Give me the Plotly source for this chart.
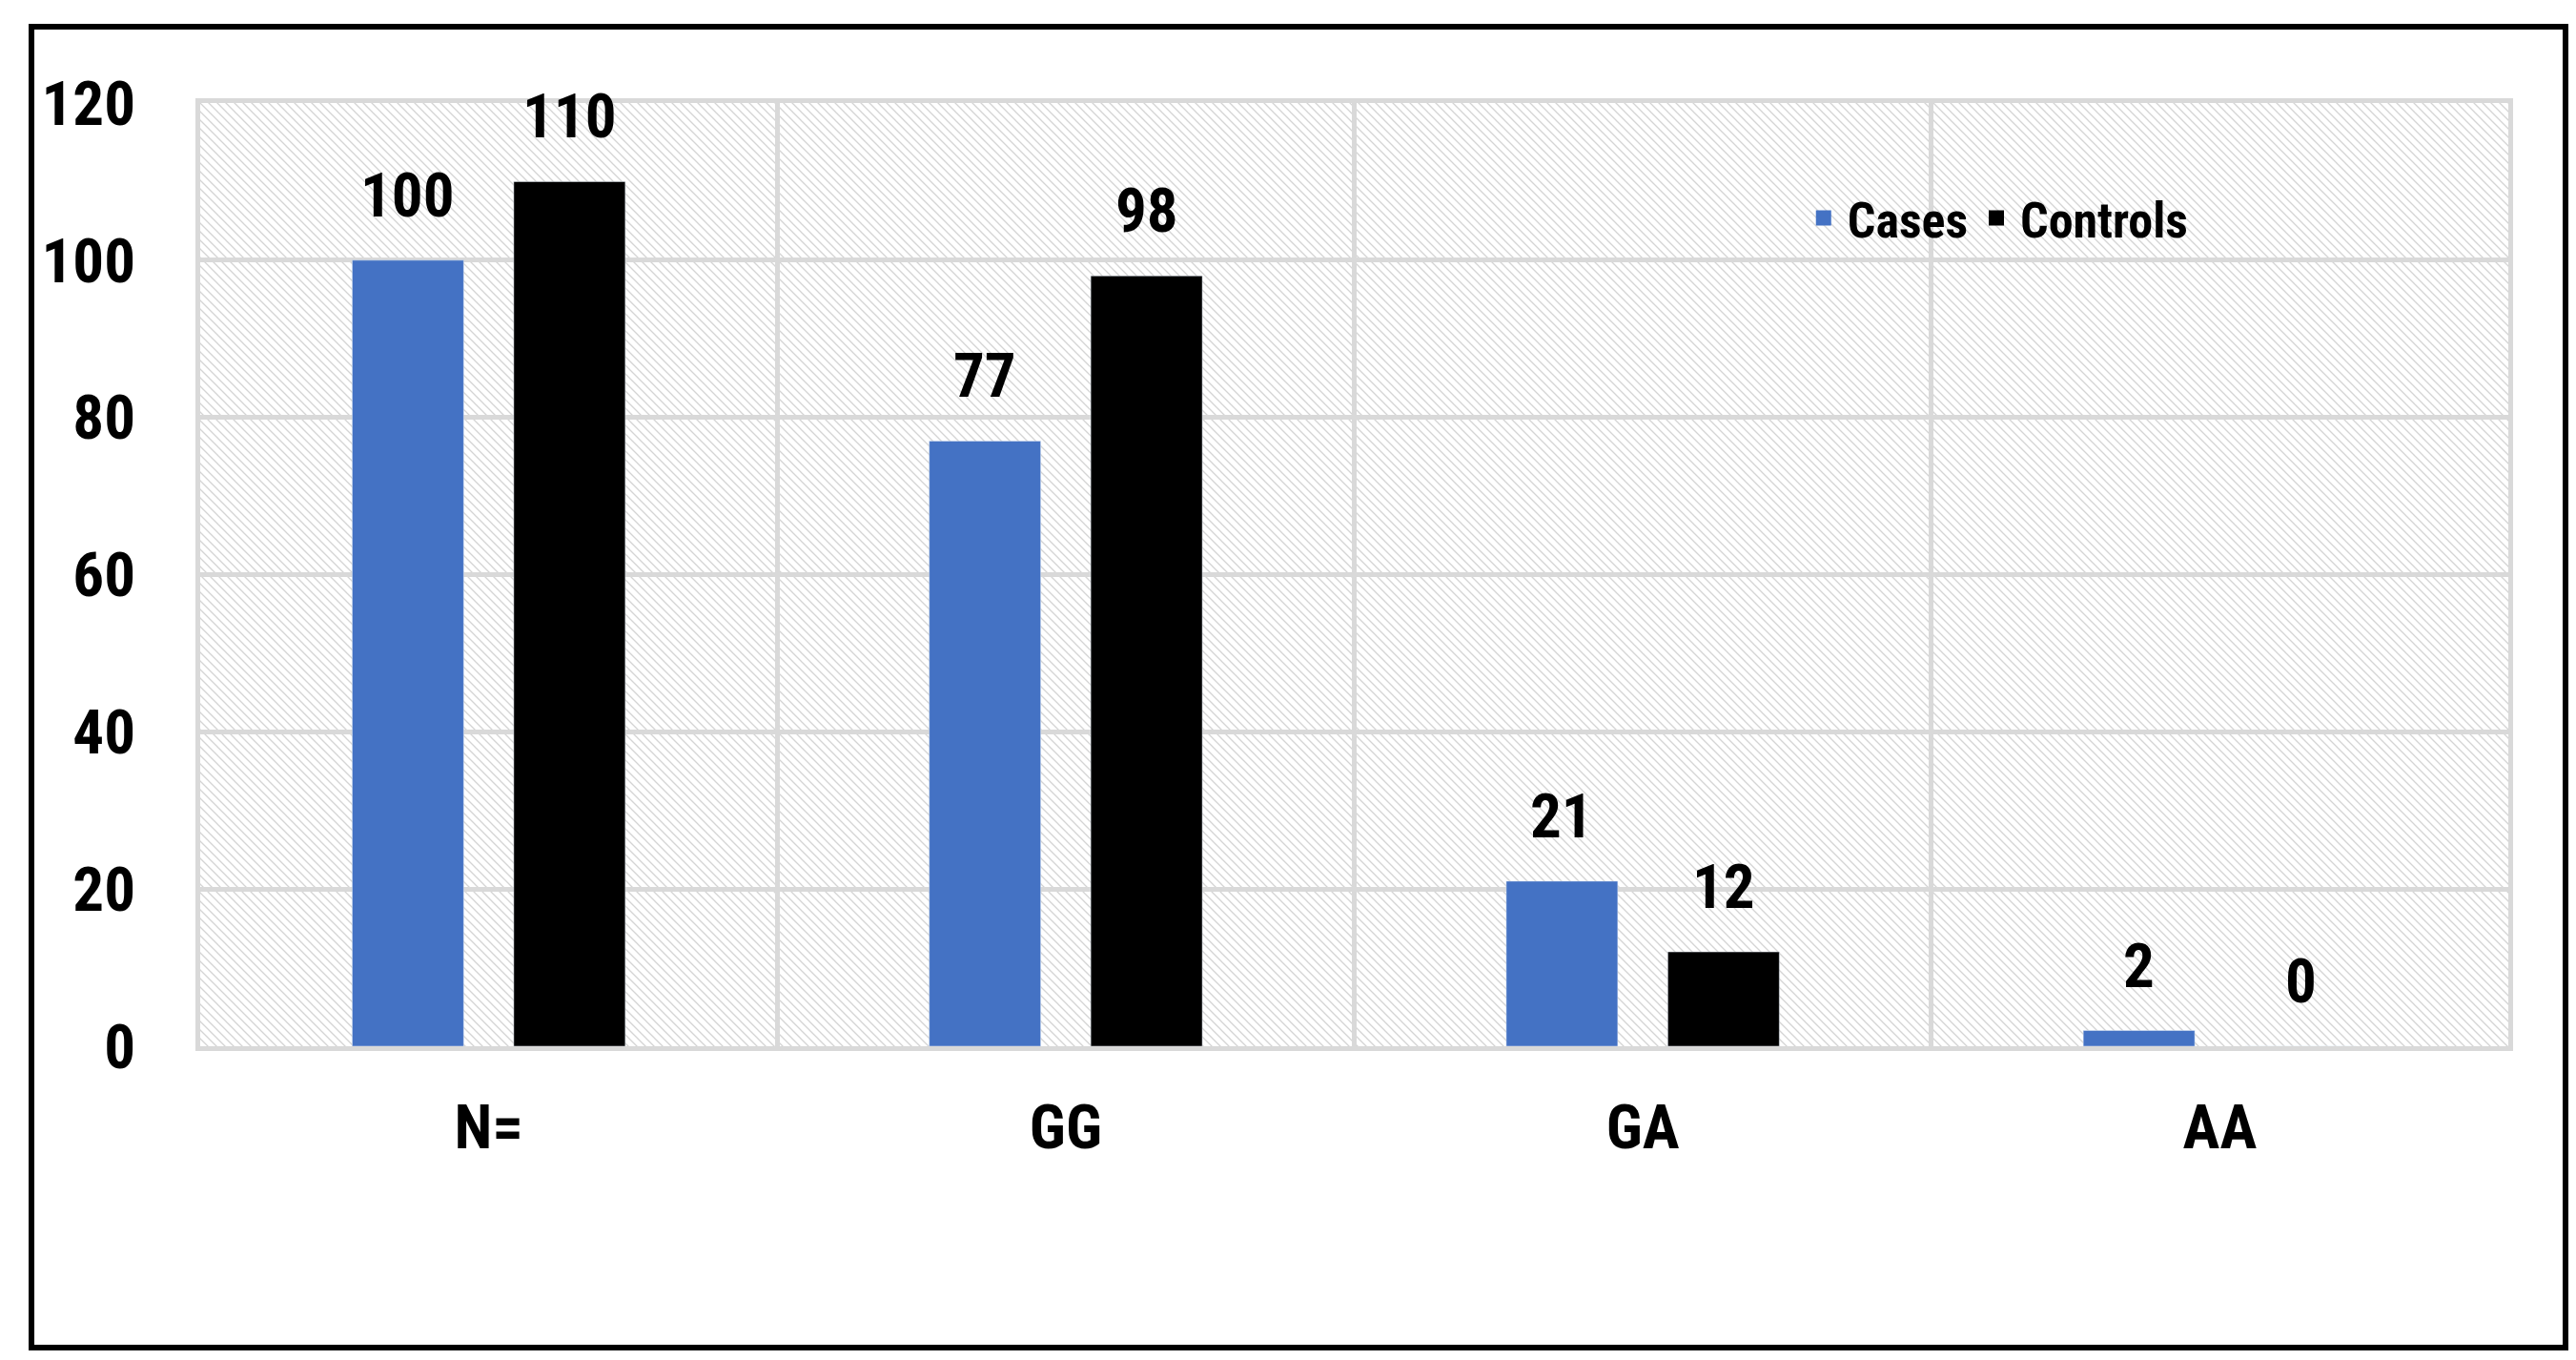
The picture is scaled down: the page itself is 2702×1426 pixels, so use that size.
import base64
import plotly.graph_objects as go

# ---------------- data ----------------
categories = ["N=", "GG", "GA", "AA"]
cases = [100, 77, 21, 2]
controls = [110, 98, 12, 0]
series_names = ["Cases", "Controls"]
y_ticks = [0, 20, 40, 60, 80, 100, 120]

# ---------------- style ----------------
W, H = 2702, 1426
L, R, T, B = 202, 79, 100, 337
PW, PH = W - L - R, H - T - B
FONT = "Roboto Condensed, DejaVu Sans Condensed, Roboto, sans-serif"
BLUE = "#4472C4"
BLACK = "#000000"
GRID = "#d9d9d9"
BARGAP = 0.44
BARGROUPGAP = 0.31
OFFSET = (1 - BARGAP) / 4  # centre offset of each bar in a group

x_idx = list(range(len(categories)))

fig = go.Figure()
fig.add_trace(go.Bar(x=x_idx, y=cases, name=series_names[0], marker_color=BLUE,
                     showlegend=False, hovertemplate="%{y}<extra>Cases</extra>"))
fig.add_trace(go.Bar(x=x_idx, y=controls, name=series_names[1], marker_color=BLACK,
                     showlegend=False, hovertemplate="%{y}<extra>Controls</extra>"))
# legend entries with larger square swatches
for nm, col in zip(series_names, [BLUE, BLACK]):
    fig.add_trace(go.Scatter(x=[None], y=[None], mode="markers", name=nm,
                             marker=dict(symbol="square", size=26, color=col)))

# data labels
for i, (a, b) in enumerate(zip(cases, controls)):
    for val, dx in ((a, -OFFSET), (b, OFFSET)):
        fig.add_annotation(x=i + dx, y=val, text=str(val), showarrow=False,
                           yanchor="bottom", yshift=28,
                           font=dict(family=FONT, size=65, color="black", weight="bold"))

# hatched plot background
svg = f'''<svg xmlns="http://www.w3.org/2000/svg" width="{PW}" height="{PH}">
<defs><pattern id="p" patternUnits="userSpaceOnUse" width="9" height="9">
<rect width="9" height="9" fill="white"/>
<path d="M0,0 L9,9 M-3,6 L3,12 M6,-3 L12,3" stroke="#d4d4d4" stroke-width="1.3"/>
</pattern></defs><rect width="{PW}" height="{PH}" fill="url(#p)"/></svg>'''
uri = "data:image/svg+xml;base64," + base64.b64encode(svg.encode()).decode()
fig.add_layout_image(source=uri, xref="x", yref="y", x=-0.5, y=120, sizex=4, sizey=120,
                     sizing="stretch", layer="below", xanchor="left", yanchor="top")

# outer frame
fx0, fx1 = 25, 2683
fy0, fy1 = 20, 1405
fig.add_shape(type="rect", xref="paper", yref="paper",
              x0=(fx0 - L) / PW, x1=(fx1 - L) / PW,
              y0=(H - B - fy1) / PH, y1=(H - B - fy0) / PH,
              line=dict(color="black", width=6), fillcolor="rgba(0,0,0,0)")

tick_font = dict(family=FONT, size=65, color="black", weight="bold")
fig.update_layout(
    width=W, height=H,
    margin=dict(l=L, r=R, t=T, b=B, autoexpand=False),
    paper_bgcolor="white", plot_bgcolor="rgba(0,0,0,0)",
    barmode="group", bargap=BARGAP, bargroupgap=BARGROUPGAP,
    legend=dict(orientation="h", x=0.693, y=0.878, xanchor="left", yanchor="middle",
                bgcolor="rgba(0,0,0,0)", font=dict(family=FONT, size=52, color="black", weight="bold"),
                itemsizing="trace", itemwidth=40),
    xaxis=dict(range=[-0.5, 3.5], tickmode="array", tickvals=x_idx, ticktext=categories,
               showgrid=False, zeroline=False, ticks="", tickfont=tick_font,
               ticklabelstandoff=24,
               showline=True, mirror=True, linecolor=GRID, linewidth=5,
               minor=dict(tickmode="array", tickvals=[0.5, 1.5, 2.5], showgrid=True,
                          gridcolor=GRID, gridwidth=5, ticks="")),
    yaxis=dict(range=[0, 120], tickmode="array", tickvals=y_ticks, showgrid=True,
               gridcolor=GRID, gridwidth=5, zeroline=False, ticks="", tickfont=tick_font,
               ticklabelstandoff=50,
               showline=True, mirror=True, linecolor=GRID, linewidth=5),
)

fig.write_html("out.html")
